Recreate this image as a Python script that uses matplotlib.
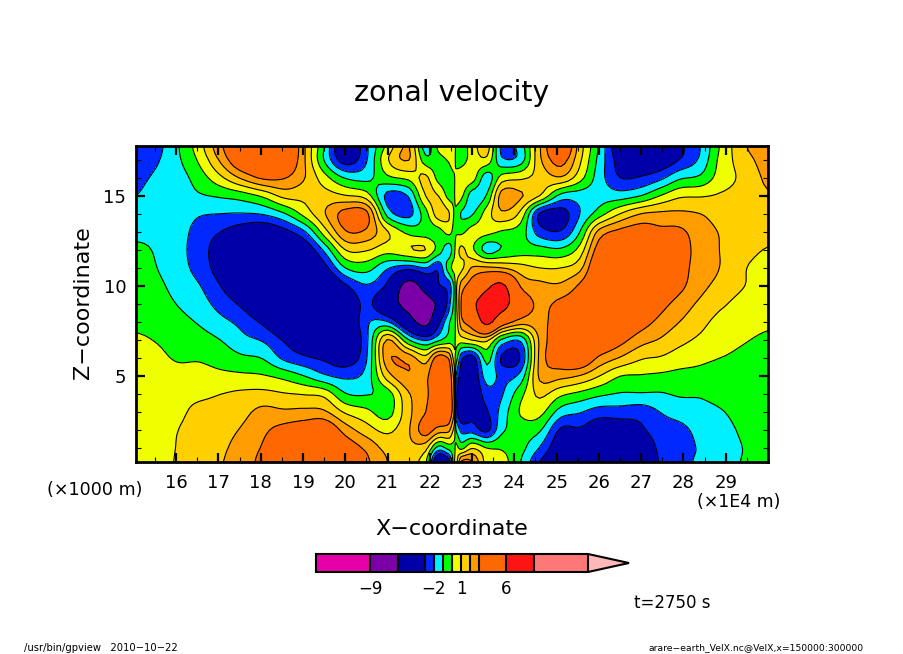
import numpy as np
import matplotlib
matplotlib.use("Agg")
import matplotlib.pyplot as plt
from matplotlib.ticker import MultipleLocator

W, H = 904, 654
plt.rcParams['font.family'] = ['DejaVu Sans']

x_km = [15.05,15.55,16.05,16.55,17.05,17.55,18.05,18.55,19.05,19.5,20.0,20.5,21.0,21.5,21.9,22.2,22.45,22.58,
        22.62,22.75,23.0,23.35,23.7,24.15,24.6,25.1,25.55,26.0,26.5,27.0,27.45,27.9,28.4,28.85,29.45,30.0]
z_km = [17.75,17,16,15,14,13,12,11,10,9,8,7,6,5,4,3,2,1,0.25]

# velocity profiles (m/s): one list for each x position, from top to bottom
vel_columns = [
 [-2.9,-2.6,-2.3,-2.0,-1.6,-1.2,-0.85,-0.6,-0.5,-0.35,-0.15,0.1,0.25,0.4,0.5,0.55,0.6,0.6,0.6],
 [-2.3,-2.1,-1.8,-1.5,-1.3,-1.2,-1.1,-1.0,-0.8,-0.6,-0.3,-0.05,0.2,0.4,0.55,0.7,0.8,0.85,0.9],
 [-1.05,-1.15,-1.4,-1.45,-1.5,-1.6,-1.7,-1.6,-1.35,-1.05,-0.7,-0.4,-0.1,0.35,0.7,0.8,1.0,1.05,1.08],
 [0.6,0.2,-0.5,-1.1,-1.9,-2.4,-2.5,-2.4,-1.95,-1.55,-1.1,-0.6,-0.1,0.35,0.8,1.3,1.6,1.8,1.9],
 [2.8,2.2,0.8,-0.85,-2.0,-3.0,-3.6,-3.5,-3.0,-2.4,-1.7,-1.0,-0.4,0.25,1.0,1.35,1.65,1.85,1.95],
 [4.5,4.2,2.2,-0.5,-2.05,-3.6,-4.2,-4.3,-4.0,-3.2,-2.3,-1.7,-0.8,0.2,1.2,1.7,2.1,2.4,2.5],
 [5,4.5,3.2,0.2,-1.9,-4,-4.8,-5,-4.9,-4.4,-3.2,-2.1,-1.05,0.1,1.3,2.3,2.8,3.1,3.3],
 [5,4.5,3.1,1.3,-1.1,-3.4,-5,-5.3,-5.3,-5,-4.3,-3.1,-2.2,-0.3,1.1,2.2,3.4,3.9,4.0],
 [2.0,2.0,2.0,1.3,0.4,-2.05,-4,-5,-5.5,-5.3,-4.8,-4,-2.8,-1.0,0.95,2.3,3.8,4.3,4.4],
 [-1.0,-1.05,0.4,1.4,1.9,0.5,-1.8,-3.5,-5,-5.3,-5.2,-4.5,-3.2,-1.8,0.7,2.2,4.2,4.7,4.7],
 [-4.5,-3.6,-1.1,1.05,3.4,2.9,1.0,-1.0,-3.2,-4.5,-4.7,-4.5,-3.7,-2.2,-0.9,0.9,2.6,3.8,4.1],
 [-2.2,-2.1,-1.3,0.5,3.3,2.8,1.1,-0.6,-2.1,-2.7,-2.2,-2.3,-2.1,-1.6,-1.05,0.3,1.5,2.8,3.2],
 [0.3,0.9,-0.2,-2.3,-1.4,1.05,0.4,-1.9,-3.3,-4.7,-1.9,2.1,2.7,1.5,-0.5,-0.4,0.8,1.7,2.0],
 [2.1,2.05,0.3,-1.9,-2.3,-0.3,0.9,-2.6,-7,-6.8,-4.8,-0.9,2.6,2.9,1.9,1.7,1.9,1.8,1.4],
 [-1.5,-0.6,1.2,1.0,-0.4,-0.5,1.0,-2.0,-5,-7,-6.8,-2.1,1.4,2.7,2.6,3.0,3.5,1.3,0.2],
 [0.2,-0.3,-0.3,1.0,1.5,-0.4,-0.4,-2.8,-3.2,-5.5,-3.5,-1.2,3.6,4.5,4.7,4.2,2.5,-1.5,-4.5],
 [0.5,0.1,-0.5,-0.3,1.1,0.3,-1.5,-0.5,-2.6,-2.5,-1.2,-0.5,2.9,3.8,4,4,2.2,-0.7,-3.5],
 [0.6,0.5,-0.1,-0.1,-0.1,-0.3,-0.3,0.3,-0.8,-0.7,-0.5,-0.3,0.5,1.5,1.8,1.8,0.6,-0.3,-0.2],
 [-0.3,-0.4,0.4,0.5,-0.3,-0.1,0.5,0.5,0.8,0.7,0.5,0.3,-0.5,-2,-2.5,-2.5,-1,0.3,0.5],
 [-0.5,-0.4,0.6,0.2,-1.1,-0.2,1.2,0.8,2.5,3.2,2.7,0.5,-2.8,-3.5,-3.8,-3.8,-2.3,-0.2,3.2],
 [0.5,0.4,0.5,-1.5,-1.1,0.4,0.2,2.1,3.8,5.5,3.9,1,-3.5,-4,-4,-3.3,-2.4,1,3],
 [1.5,0.7,-1.5,-0.9,0.5,0.3,-1.4,2.2,5.5,7,6.6,1.2,-0.6,-1.5,-2.5,-3.1,-3.2,0.05,0.6],
 [-2.3,-1.8,0.4,2.4,1.8,-0.1,-0.9,2,6.5,7,4,-1.2,-3.15,-2.3,-2.1,-1.6,-1.2,-0.1,0.4],
 [-1.5,-1.5,0.8,2.1,0.7,-0.5,-0.5,1.4,2.9,4.0,2.5,-1.8,-2.9,-1.6,-0.3,0.1,-0.6,-0.7,-1.0],
 [1.9,1.8,1.3,1.0,-3.1,-2.5,-0.6,1.0,2.3,2.8,2.7,2.2,2.3,2.2,1.2,0.3,-0.9,-2.1,-3],
 [4.5,3.5,1.9,-1.3,-3.5,-2.9,-0.8,1,2.2,3.3,3.6,3.9,3.8,2.3,0.2,-1.5,-3.2,-4,-4.2],
 [1.5,1.2,0.4,-1.5,-2,-1,0.4,1.7,3.2,3.9,4.5,4.5,4.2,1.9,-0.3,-1.95,-3.2,-4.3,-4.4],
 [-1.1,-1.3,-1.5,-1.4,-0.5,2.3,3.6,4.5,4.8,4.8,4.6,4.3,2.8,1.0,-0.8,-2.5,-3.9,-4.5,-4.5],
 [-4,-3.5,-3.0,-1.5,1.0,3.3,4.3,4.7,5,4.8,4.3,3.4,1.9,0,-1.1,-2.5,-3.8,-4.5,-4.7],
 [-4.5,-3.9,-2.9,-1.0,2.0,3.6,4.3,4.8,4.5,4.2,3.5,2.4,1.1,-0.1,-1.1,-2.6,-3.2,-3.9,-4.1],
 [-4.5,-3.9,-2.3,0.0,2.2,3.3,4.3,4.4,4.1,3.4,2.7,1.9,0.9,-0.2,-1.1,-2.0,-2.5,-2.8,-2.9],
 [-3.3,-3.0,-1.2,0.8,2.2,3.2,3.4,3.5,3.3,2.6,2.0,1.3,0.5,-0.3,-0.9,-1.6,-2.3,-2.4,-2.4],
 [-2.0,-1.8,-0.8,0.9,2.0,2.5,2.7,2.5,2.3,1.8,1.3,0.8,0.2,-0.3,-0.9,-1.3,-1.7,-1.9,-1.8],
 [0,0.2,0.4,1.1,1.6,1.95,2.0,2.0,1.7,1.2,0.7,0.4,0.0,-0.4,-0.7,-1.1,-1.4,-1.5,-1.5],
 [1.9,1.6,1.3,1.4,1.5,1.5,1.3,1.05,1.0,0.6,0.3,0.05,-0.2,-0.4,-0.5,-0.6,-0.8,-0.95,-0.9],
 [2.6,2.4,2.2,1.9,1.6,1.3,0.95,0.75,0.55,0.3,0.1,-0.1,-0.2,-0.25,-0.3,-0.35,-0.4,-0.4,-0.4],
]

levels = [-15,-9,-6,-3,-2,-1,0,1,2,3,6,9,15]
band_colors = ['#E600A8','#7C00A8','#0000A8','#0028FF','#00F0FF','#00FF00','#F0FF00',
               '#FFD000','#FF9C00','#FF6800','#FF1414','#FF7878','#FFB8B8']
colorbar_ticks = [-9,-2,1,6]
x_ticks = list(range(16,30))
z_ticks = [5,10,15]
title = "zonal velocity"

def cubic_1d(a, n):
    """Catmull-Rom resampling along axis 0 (passes through the read-off values)."""
    m = a.shape[0]
    t = np.linspace(0, m-1, (m-1)*n+1)
    i = np.minimum(t.astype(int), m-2)
    u = (t-i)[(...,)+(None,)*(a.ndim-1)]
    p1, p2 = a[i], a[i+1]
    p0, p3 = a[np.maximum(i-1,0)], a[np.minimum(i+2,m-1)]
    return 0.5*(2*p1 + (p2-p0)*u + (2*p0-5*p1+4*p2-p3)*u**2 + (3*p1-p0-3*p2+p3)*u**3)

n = 5
V_sorted = np.array(vel_columns).T[::-1,:]
Vf = cubic_1d(cubic_1d(V_sorted, n).T, n).T
Xf = np.interp(np.linspace(0,len(x_km)-1,(len(x_km)-1)*n+1), np.arange(len(x_km)), x_km)
Zf = np.interp(np.linspace(0,len(z_km)-1,(len(z_km)-1)*n+1), np.arange(len(z_km)), np.array(z_km)[::-1])

fig = plt.figure(figsize=(W/100, H/100), dpi=100, facecolor='white')
def box(l, t, r, b):
    return [l/W, 1-b/H, (r-l)/W, (b-t)/H]
def txt(px, py, s, **kw):
    kw.setdefault('ha','center'); kw.setdefault('va','center'); kw.setdefault('color','black')
    fig.text(px/W, 1-py/H, s, **kw)

ax = fig.add_axes(box(136,146,768,462))
cf = ax.contourf(Xf, Zf, Vf, levels=levels, colors=band_colors, extend='max')
ax.contour(Xf, Zf, Vf, levels=levels[1:-1], colors='black', linewidths=0.8, linestyles='solid')
ax.set_xlim(x_km[0], x_km[-1]); ax.set_ylim(0.25, 17.75)
ax.xaxis.set_minor_locator(MultipleLocator(0.5))
ax.yaxis.set_minor_locator(MultipleLocator(1))
ax.set_xticks(x_ticks); ax.set_yticks(z_ticks)
ax.tick_params(which='major', direction='in', length=6.5, width=1.6, top=True, right=True, labelsize=13, pad=7)
ax.tick_params(which='minor', direction='in', length=3.5, width=0.8, top=True, right=True)
ax.tick_params(axis='x', pad=9)
for s in ax.spines.values():
    s.set_linewidth(2)

cax = fig.add_axes(box(316,554,629,572))
cb = fig.colorbar(cf, cax=cax, orientation='horizontal', extend='max', extendfrac=41/272,
                  spacing='proportional', drawedges=True)
cb.set_ticks(colorbar_ticks)
cb.ax.set_xticklabels(['\u2212'+str(-t) if t<0 else str(t) for t in colorbar_ticks], fontsize=12)
cb.ax.tick_params(length=0, pad=6)
cb.ax.minorticks_off()
cb.outline.set_linewidth(1.5); cb.dividers.set_linewidth(1.5)

txt(452, 93, title, fontsize=20.4)
txt(83, 303, "Z\u2212coordinate", rotation=90, fontsize=16)
txt(452, 529, "X\u2212coordinate", fontsize=16)
txt(95, 490, "(\u00d71000 m)", fontsize=12.6)
txt(739, 502, "(\u00d71E4 m)", fontsize=12.5)
txt(672, 603, "t=2750 s", fontsize=12)
txt(24, 648, "/usr/bin/gpview   2010\u221210\u221222", ha='left', fontsize=7.2)
txt(864, 648, "arare\u2212earth_VelX.nc@VelX,x=150000:300000", ha='right', fontsize=6.7)

fig.savefig("out.png", dpi=100)
